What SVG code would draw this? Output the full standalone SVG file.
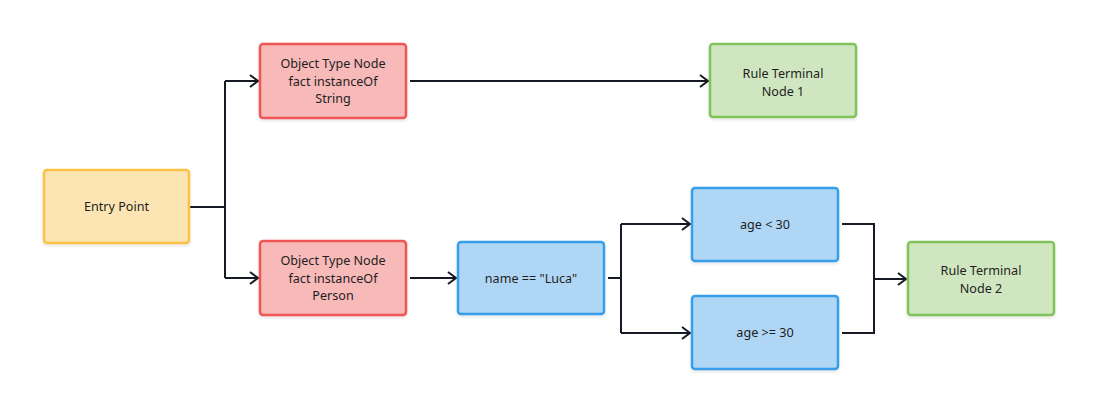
<svg xmlns="http://www.w3.org/2000/svg" width="1098" height="414" viewBox="0 0 1098 414">
<defs>
<marker id="arr" viewBox="0 0 10 14" refX="9" refY="7" markerWidth="10" markerHeight="14" markerUnits="userSpaceOnUse" orient="auto">
<path d="M1,1 L9,7 L1,13" fill="none" stroke="#161a26" stroke-width="2"/>
</marker>
<filter id="sh" x="-10%" y="-10%" width="120%" height="130%">
<feDropShadow dx="0" dy="1.5" stdDeviation="1.5" flood-color="#000" flood-opacity="0.12"/>
</filter>
</defs>
<style>
.n{stroke-width:2.5;filter:url(#sh)}
.y{fill:#fce5b2;stroke:#fcc246}
.r{fill:#f8b9b9;stroke:#ef5656}
.b{fill:#b0d6f5;stroke:#379ee8}
.g{fill:#d0e6c0;stroke:#80c35a}
text{font-family:"Noto Sans","Open Sans",sans-serif;font-size:12.6px;fill:#1e1e1e;text-anchor:middle}
.c{fill:none;stroke:#161a26;stroke-width:2}
</style>
<rect width="1098" height="414" fill="#fff"/>
<g id="connectors">
<path class="c" d="M190,207 H225"/>
<path class="c" d="M225,81 V278"/>
<path class="c" d="M225,81 H258" marker-end="url(#arr)"/>
<path class="c" d="M225,278 H258" marker-end="url(#arr)"/>
<path class="c" d="M410,81 H708" marker-end="url(#arr)"/>
<path class="c" d="M410,278 H456" marker-end="url(#arr)"/>
<path class="c" d="M608,278 H621"/>
<path class="c" d="M621,224 V333"/>
<path class="c" d="M621,224 H690" marker-end="url(#arr)"/>
<path class="c" d="M621,333 H690" marker-end="url(#arr)"/>
<path class="c" d="M842,224 H874 V333 H842"/>
<path class="c" d="M874,279 H906" marker-end="url(#arr)"/>
</g>
<g id="entry"><rect class="n y" x="44" y="170" width="145" height="73" rx="3"/><text x="116.5" y="211">Entry Point</text></g>
<g id="otn-string"><rect class="n r" x="260" y="44" width="146" height="74" rx="3"/><text x="333" y="68">Object Type Node</text><text x="333" y="85.5">fact instanceOf</text><text x="333" y="103">String</text></g>
<g id="rtn1"><rect class="n g" x="710" y="44" width="146" height="73" rx="3"/><text x="783" y="78">Rule Terminal</text><text x="783" y="95.5">Node 1</text></g>
<g id="otn-person"><rect class="n r" x="260" y="241" width="146" height="74" rx="3"/><text x="333" y="265">Object Type Node</text><text x="333" y="282.5">fact instanceOf</text><text x="333" y="300">Person</text></g>
<g id="name-luca"><rect class="n b" x="458" y="242" width="146" height="72" rx="3"/><text x="531" y="283">name == "Luca"</text></g>
<g id="age-lt"><rect class="n b" x="692" y="188" width="146" height="73" rx="3"/><text x="765" y="229">age &lt; 30</text></g>
<g id="age-ge"><rect class="n b" x="692" y="296" width="146" height="73" rx="3"/><text x="765" y="337">age &gt;= 30</text></g>
<g id="rtn2"><rect class="n g" x="908" y="242" width="146" height="73" rx="3"/><text x="981" y="275">Rule Terminal</text><text x="981" y="292.5">Node 2</text></g>
</svg>
